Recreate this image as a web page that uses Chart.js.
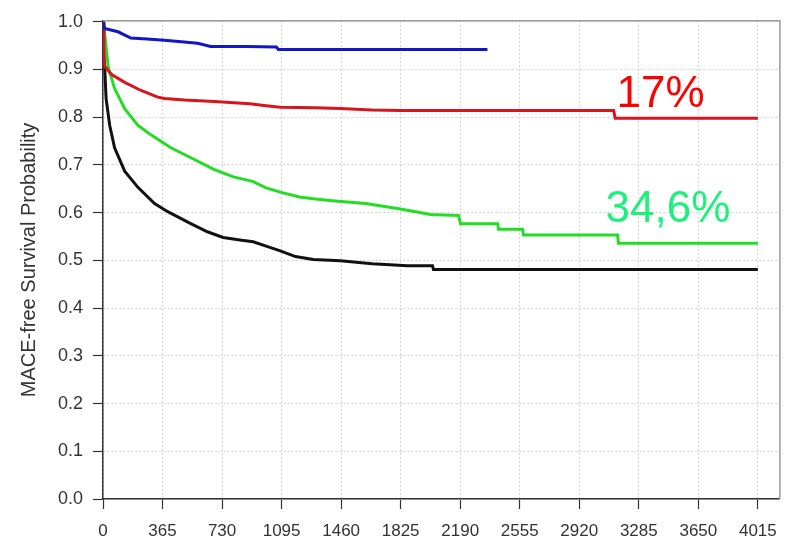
<!DOCTYPE html>
<html>
<head>
<meta charset="utf-8">
<script src="https://cdn.jsdelivr.net/npm/chart.js@4/dist/chart.umd.min.js"></script>
<style>
  body { margin: 0; background: #fff; }
</style>
</head>
<body>
<canvas id="km" width="789" height="545"></canvas>
<script>
// tick labels
const xTicks = [0, 365, 730, 1095, 1460, 1825, 2190, 2555, 2920, 3285, 3650, 4015];
const yTicks = [0, 0.1, 0.2, 0.3, 0.4, 0.5, 0.6, 0.7, 0.8, 0.9, 1.0];

// blue curve
const blueDays = [0, 10, 92, 171, 270, 377, 480, 580, 660, 880, 1063, 1075, 2357];
const blueSurv = [1.0, 0.986, 0.979, 0.966, 0.964, 0.961, 0.958, 0.955, 0.948, 0.948, 0.947, 0.942, 0.942];

// red curve
const redDays = [0, 6, 10, 51, 133, 233, 336, 377, 500, 683, 900, 1000, 1087, 1300, 1455, 1650, 1825, 3131, 3140, 4015];
const redSurv = [1.0, 0.942, 0.907, 0.89, 0.873, 0.856, 0.842, 0.839, 0.836, 0.833, 0.828, 0.824, 0.821, 0.820, 0.818, 0.815, 0.814, 0.814, 0.798, 0.798];

// green curve
const greenDays = [0, 10, 31, 71, 133, 214, 294, 416, 539, 683, 800, 921, 1000, 1087, 1204, 1290, 1406, 1610, 1815, 1900, 2007, 2180, 2192, 2420, 2425, 2572, 2578, 3155, 3160, 4015];
const greenSurv = [1.0, 0.976, 0.907, 0.86, 0.818, 0.783, 0.763, 0.736, 0.715, 0.690, 0.675, 0.665, 0.652, 0.643, 0.633, 0.629, 0.625, 0.619, 0.608, 0.603, 0.596, 0.594, 0.577, 0.577, 0.565, 0.565, 0.553, 0.553, 0.536, 0.536];

// black curve
const blackDays = [0, 4, 10, 19, 41, 71, 133, 214, 316, 397, 532, 640, 737, 850, 921, 1000, 1087, 1180, 1290, 1455, 1650, 1866, 2020, 2026, 4015];
const blackSurv = [1.0, 0.93, 0.907, 0.839, 0.783, 0.736, 0.687, 0.653, 0.619, 0.602, 0.578, 0.560, 0.548, 0.542, 0.539, 0.530, 0.520, 0.508, 0.502, 0.499, 0.493, 0.489, 0.489, 0.481, 0.481];

const notes = [
  { text: '17%', day: 3148, surv: 0.8206, color: '#ff0000' },
  { text: '34,6%', day: 3081, surv: 0.5814, color: '#1ef07c' }
];

function pts(days, surv) {
  return days.map((d, i) => ({ x: d, y: surv[i] }));
}

function curve(days, surv, color) {
  return {
    data: pts(days, surv),
    borderColor: color,
    borderWidth: 3,
    pointRadius: 0,
    tension: 0,
    fill: false
  };
}

const boxPlugin = {
  id: 'box',
  afterDraw(chart) {
    const { ctx, chartArea: a, scales } = chart;
    ctx.save();
    ctx.strokeStyle = '#9a9a9a';
    ctx.lineWidth = 1.5;
    ctx.beginPath();
    ctx.moveTo(a.left, a.top);
    ctx.lineTo(a.right, a.top);
    ctx.lineTo(a.right, a.bottom);
    ctx.stroke();
    ctx.font = '44px "Liberation Sans", Arial, sans-serif';
    ctx.textBaseline = 'alphabetic';
    ctx.textAlign = 'left';
    notes.forEach(n => {
      ctx.fillStyle = n.color;
      ctx.fillText(n.text, scales.x.getPixelForValue(n.day), scales.y.getPixelForValue(n.surv));
    });
    ctx.restore();
  }
};

new Chart(document.getElementById('km'), {
  type: 'line',
  data: {
    datasets: [
      curve(blueDays, blueSurv, '#1414c8'),
      curve(redDays, redSurv, '#d8141e'),
      curve(greenDays, greenSurv, '#22dd22'),
      curve(blackDays, blackSurv, '#111111')
    ]
  },
  options: {
    responsive: false,
    animation: false,
    layout: { padding: { top: 14, right: 7, left: 0, bottom: 0 } },
    plugins: { legend: { display: false }, tooltip: { enabled: false } },
    scales: {
      x: {
        type: 'linear',
        min: 0,
        max: 4150,
        afterBuildTicks: s => { s.ticks = xTicks.map(v => ({ value: v })); },
        afterFit: s => { s.height = 46; },
        ticks: {
          autoSkip: false,
          maxRotation: 0,
          padding: 12,
          color: '#333',
          font: { family: '"Liberation Sans", Arial, sans-serif', size: 17 },
          callback: v => String(v)
        },
        grid: { color: '#d2d2d2', lineWidth: 1, tickLength: 10, tickColor: '#333', tickWidth: 1.2 },
        border: { color: '#333', width: 1.5, dash: [2, 2] }
      },
      y: {
        min: 0,
        max: 1.002,
        afterBuildTicks: s => { s.ticks = yTicks.map(v => ({ value: v })); },
        afterFit: s => { s.width = 103; },
        ticks: {
          autoSkip: false,
          padding: 10,
          color: '#333',
          font: { family: '"Liberation Sans", Arial, sans-serif', size: 18 },
          callback: v => v.toFixed(1)
        },
        grid: { color: '#d2d2d2', lineWidth: 1, tickLength: 10, tickColor: '#333', tickWidth: 1.2 },
        border: { color: '#333', width: 1.5, dash: [2, 2] },
        title: {
          display: true,
          text: 'MACE-free Survival Probability',
          color: '#333',
          padding: { top: 17, bottom: 0 },
          font: { family: '"Liberation Sans", Arial, sans-serif', size: 20 }
        }
      }
    }
  },
  plugins: [boxPlugin]
});
</script>
</body>
</html>
